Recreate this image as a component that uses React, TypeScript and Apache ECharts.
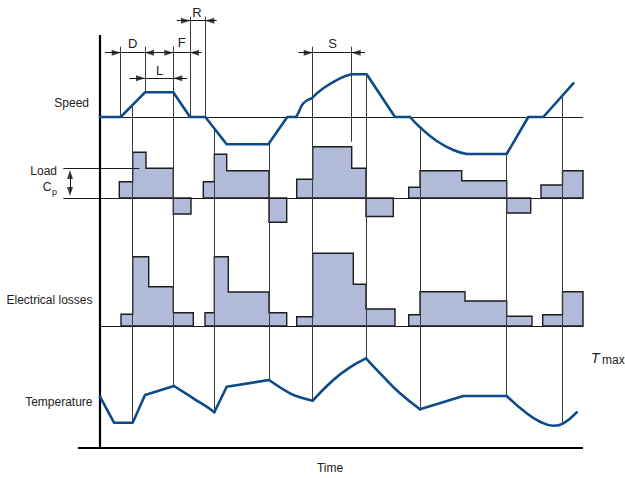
import { useEffect, useRef } from "react";
import * as echarts from "echarts";

// ---------- DATA (time in arbitrary units, 0 = start of cycle) ----------
// Speed (relative, 0 = standstill)
const speedStraight1 = [[0, 0], [20.7, 0], [45, 24.7], [73.3, 24.7], [90, 0], [105.3, 0], [126.7, -27.3], [168.3, -27.3], [187.3, 0], [196, 0]];
const speedArc1 = [[196, 0], [198.3, 4], [203.3, 13.7], [211.7, 18.7]];
const speedArc2 = [[211.7, 18.7], [223.3, 28.7], [240, 38.7], [251.7, 42.7]];
const speedStraight2 = [[251.7, 42.7], [266.7, 42.7], [295, 0], [310, 0]];
const speedArc3 = [[310, 0], [320, -10.3], [336.7, -24], [353.3, -33], [366.7, -37]];
const speedStraight3 = [[366.7, -37], [406.7, -37], [428.3, 0], [443.3, 0], [473.3, 33.7]];

// Load torque blocks: [start, end, value]
const loadCycle1 = [[19.3, 32.7, 16.3], [32.7, 46, 45.7], [46, 73.3, 29.7], [73.3, 91, -16]];
const loadCycle2 = [[103.3, 114.3, 16.3], [114.3, 126.7, 43.7], [126.7, 169, 27.3], [169, 186.7, -24.3]];
const loadCycle3 = [[196.7, 212.7, 18.7], [212.7, 251.7, 51.3], [251.7, 266, 29.7], [266, 293.3, -18.5]];
const loadCycle4 = [[308.7, 320, 10.7], [320, 361.7, 27.3], [361.7, 406.7, 17.3], [406.7, 430.7, -15]];
const loadCycle5 = [[441, 462.5, 13], [462.5, 483, 27.3]];

// Electrical losses blocks: [start, end, value]
const lossCycle1 = [[21, 32.7, 11.7], [32.7, 48.7, 69.3], [48.7, 73.3, 39.3], [73.3, 93.3, 13.3]];
const lossCycle2 = [[105, 114.3, 13.3], [114.3, 128.3, 69.3], [128.3, 169, 34], [169, 186.7, 13.3]];
const lossCycle3 = [[196.7, 212.7, 9.3], [212.7, 253.3, 72.7], [253.3, 266, 41.7], [266, 295, 17]];
const lossCycle4 = [[308.7, 320, 11.3], [320, 365, 34.3], [365, 406.7, 25], [406.7, 432, 9.7]];
const lossCycle5 = [[442.7, 462.5, 11.3], [462.5, 483, 34.3]];

// Temperature
const tempStraight1 = [[0, 51.3], [14, 25.3], [32.7, 25.3], [45, 53], [74, 62]];
const tempArc1 = [[74, 62], [93.3, 49.7], [106.7, 41.3], [114.3, 35.7]];
const tempStraight2 = [[114.3, 35.7], [126.7, 61.3], [169, 68]];
const tempArc2 = [[169, 68], [190, 54.7], [203.3, 49.7], [212.7, 47.3]];
const tempArc3 = [[212.7, 47.3], [233.3, 68], [250, 80.7], [266, 89.7]];
const tempArc4 = [[266, 89.7], [283.3, 71.3], [300, 54.7], [320, 38.7]];
const tempStraight3 = [[320, 38.7], [363.3, 52], [406.7, 52]];
const tempArc5 = [[406.7, 52], [426.7, 34.7], [440, 26.3], [453.3, 22.3], [463.3, 24.7], [476.7, 35.7]];

// Event times (vertical markers): [time, top, bottom]  ("speed"/"temp" = on the curve)
const markerTimes = [20.7, 32.7, 45, 73.3, 90, 105.3, 114.3, 169, 212.7, 251.7, 266, 320, 406.7, 462.5];
const markerTops = ["dim", "speed", "dim", "dim", "dimHigh", "dimHigh", "speed", "speed", "dim", "dim", "speed", "speed", "speed", "speed"];
const markerBottoms = ["speed", "temp", "speed", "temp", "speed", "speed", "temp", "temp", "temp", "load", "temp", "temp", "temp", "temp"];

// Dimension intervals: [label, start, end]
const dimD = ["D", 20.7, 45];
const dimF = ["F", 73.3, 90];
const dimL = ["L", 45, 73.3];
const dimR = ["R", 90, 105.3];
const dimS = ["S", 212.7, 251.7];

// ---------- LAYOUT ----------
const SPEED_BASE = 331;
const LOAD_BASE = 250;
const LOSS_BASE = 122;
const TEMP_BASE = 0;
const T_END = 483;
const ROW_DF = 395.3;
const ROW_L = 369.7;
const ROW_R = 427.3;
const TOP_DIM = 401.3;
const TOP_DIM_HIGH = 431.3;
const LOAD_MARK_END = 306.3;

const BLUE = "#0c4a89";
const FILL = "#b1bbd9";
const INK = "#1c1c1c";
const GUIDE = "#3a3a3a";
const FONT = "Liberation Sans, Arial, Helvetica, sans-serif";

const shift = (pts: number[][], base: number) => pts.map(([t, v]) => [t, base + v]);

function interp(pts: number[][], t: number) {
  for (let i = 0; i < pts.length - 1; i++) {
    const [a, va] = pts[i];
    const [b, vb] = pts[i + 1];
    if (t >= a && t <= b && b > a) return va + ((vb - va) * (t - a)) / (b - a);
  }
  return pts[pts.length - 1][1];
}

function outline(steps: number[][], base: number) {
  const pts: number[][] = [[steps[0][0], base]];
  for (const [s, e, v] of steps) {
    pts.push([s, base + v], [e, base + v]);
  }
  pts.push([steps[steps.length - 1][1], base]);
  return pts;
}

function blockSeries(blocks: number[][][], base: number) {
  return {
    type: "custom",
    silent: true,
    z: 2,
    data: blocks.map((b) => [b[0][0], base]),
    renderItem: (params: any, api: any) => {
      const pts = outline(blocks[params.dataIndex], base).map((p) => api.coord(p));
      return {
        type: "polygon",
        shape: { points: pts },
        style: { fill: FILL, stroke: INK, lineWidth: 1.4, lineJoin: "miter" },
      };
    },
  };
}

function curve(pts: number[][], base: number, smooth: boolean) {
  return {
    type: "line",
    silent: true,
    z: 6,
    data: shift(pts, base),
    symbol: "none",
    smooth: smooth ? 0.45 : false,
    lineStyle: { color: BLUE, width: 2.6, cap: "round", join: "round" },
  };
}

function buildOption() {
  const speedAll = [...speedStraight1, ...speedArc1, ...speedArc2, ...speedStraight2, ...speedArc3, ...speedStraight3];
  const tempAll = [...tempStraight1, ...tempArc1, ...tempStraight2, ...tempArc2, ...tempArc3, ...tempArc4, ...tempStraight3, ...tempArc5];

  const endLevel = (spec: string, t: number) => {
    if (spec === "speed") return SPEED_BASE + interp(speedAll, t);
    if (spec === "temp") return TEMP_BASE + interp(tempAll, t);
    if (spec === "dim") return TOP_DIM;
    if (spec === "dimHigh") return TOP_DIM_HIGH;
    return LOAD_MARK_END;
  };

  const markerLines = markerTimes.map((t, i) => ({
    coords: [[t, endLevel(markerTops[i], t)], [t, endLevel(markerBottoms[i], t)]],
  }));

  const guides = [
    { coords: [[0, SPEED_BASE], [T_END, SPEED_BASE]] },
    { coords: [[-36.7, LOAD_BASE], [T_END, LOAD_BASE]] },
    { coords: [[-36.7, LOAD_BASE + 30], [39.3, LOAD_BASE + 30]] },
    { coords: [[0, LOSS_BASE], [T_END, LOSS_BASE]] },
    { coords: [[-30, LOAD_BASE + 24], [-30, LOAD_BASE + 6]] },
    // dimension lines
    { coords: [[5, ROW_DF], [101.7, ROW_DF]] },
    { coords: [[29.3, ROW_L], [87.3, ROW_L]] },
    { coords: [[76.7, ROW_R], [116.7, ROW_R]] },
    { coords: [[198.3, ROW_DF], [265, ROW_DF]] },
  ];

  const axes = [
    { coords: [[0, TEMP_BASE], [0, 413]] },
    { coords: [[-22, TEMP_BASE], [T_END, TEMP_BASE]] },
  ];

  const rightTips = [[dimD[1], ROW_DF], [dimF[1], ROW_DF], [dimL[1], ROW_L], [dimR[1], ROW_R], [dimS[1], ROW_DF]];
  const leftTips = [[dimD[2], ROW_DF], [dimF[2], ROW_DF], [dimL[2], ROW_L], [dimR[2], ROW_R], [dimS[2], ROW_DF]];

  const dimLabels = [
    [dimD[0], 132.7, 43],
    [dimF[0], 181.7, 42],
    [dimL[0], 159.5, 70],
    [dimR[0], 197, 12],
    [dimS[0], 332.5, 43],
  ];

  const txt = (text: string, x: number, y: number, align: string, size = 12, extra: any = {}) => ({
    type: "text",
    x,
    y,
    silent: true,
    style: { text, fill: "#222", font: `${extra.italic ? "italic " : ""}${size}px ${FONT}`, align, verticalAlign: "middle" },
  });

  return {
    animation: false,
    backgroundColor: "#fff",
    grid: { left: 0, right: 0, top: 0, bottom: 0 },
    xAxis: { type: "value", min: -100, max: 525, show: false },
    yAxis: { type: "value", min: -30, max: 448, show: false },
    series: [
      blockSeries([loadCycle1, loadCycle2, loadCycle3, loadCycle4, loadCycle5], LOAD_BASE),
      blockSeries([lossCycle1, lossCycle2, lossCycle3, lossCycle4, lossCycle5], LOSS_BASE),
      {
        type: "lines",
        coordinateSystem: "cartesian2d",
        silent: true,
        z: 3,
        data: guides,
        lineStyle: { color: INK, width: 1, opacity: 1 },
      },
      {
        type: "lines",
        coordinateSystem: "cartesian2d",
        silent: true,
        z: 4,
        data: markerLines,
        lineStyle: { color: GUIDE, width: 1, opacity: 1 },
      },
      {
        type: "lines",
        coordinateSystem: "cartesian2d",
        silent: true,
        z: 5,
        data: axes,
        lineStyle: { color: "#000", width: 2.2, opacity: 1 },
      },
      curve(speedStraight1, SPEED_BASE, false),
      curve(speedArc1, SPEED_BASE, true),
      curve(speedArc2, SPEED_BASE, true),
      curve(speedStraight2, SPEED_BASE, false),
      curve(speedArc3, SPEED_BASE, true),
      curve(speedStraight3, SPEED_BASE, false),
      curve(tempStraight1, TEMP_BASE, false),
      curve(tempArc1, TEMP_BASE, true),
      curve(tempStraight2, TEMP_BASE, false),
      curve(tempArc2, TEMP_BASE, true),
      curve(tempArc3, TEMP_BASE, true),
      curve(tempArc4, TEMP_BASE, true),
      curve(tempStraight3, TEMP_BASE, false),
      curve(tempArc5, TEMP_BASE, true),
      {
        type: "scatter",
        silent: true,
        z: 7,
        data: rightTips,
        symbol: "path://M0,0L10,5L0,10Z",
        symbolSize: [9, 6],
        symbolOffset: [-4.5, 0],
        itemStyle: { color: "#111" },
      },
      {
        type: "scatter",
        silent: true,
        z: 7,
        data: leftTips,
        symbol: "path://M10,0L0,5L10,10Z",
        symbolSize: [9, 6],
        symbolOffset: [4.5, 0],
        itemStyle: { color: "#111" },
      },
      {
        type: "scatter",
        silent: true,
        z: 7,
        data: [[-30, LOAD_BASE + 28]],
        symbol: "path://M0,10L5,0L10,10Z",
        symbolSize: [6, 9],
        symbolOffset: [0, 4.5],
        itemStyle: { color: "#111" },
      },
      {
        type: "scatter",
        silent: true,
        z: 7,
        data: [[-30, LOAD_BASE + 2]],
        symbol: "path://M0,0L10,0L5,10Z",
        symbolSize: [6, 9],
        symbolOffset: [0, -4.5],
        itemStyle: { color: "#111" },
      },
    ],
    graphic: [
      txt("Speed", 89, 103, "right"),
      txt("Load", 57, 171, "right"),
      txt("C", 51.5, 187, "right"),
      txt("p", 52, 192, "left", 9),
      txt("Electrical losses", 92.5, 300, "right"),
      txt("Temperature", 92.5, 402, "right"),
      txt("Time", 330, 468, "center"),
      txt("T", 591, 358, "left", 14, { italic: true }),
      txt("max", 602, 359.5, "left", 12),
      ...dimLabels.map(([s, x, y]) => txt(s as string, x as number, y as number, "center", 13)),
    ],
  };
}

export default function App() {
  const ref = useRef<HTMLDivElement>(null);
  useEffect(() => {
    const chart = echarts.init(ref.current!, null, { renderer: "svg" });
    chart.setOption(buildOption() as any);
    return () => chart.dispose();
  }, []);
  return (
    <div
      ref={ref}
      style={{ position: "fixed", left: 0, top: 0, width: 625, height: 478, background: "#fff" }}
    />
  );
}
